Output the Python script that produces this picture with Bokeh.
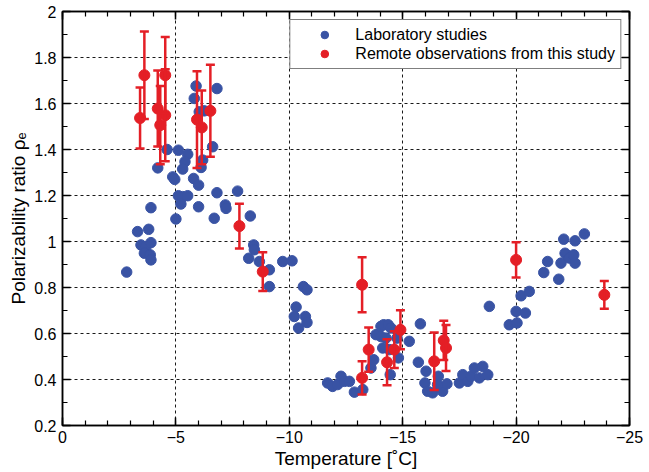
from bokeh.plotting import figure
from bokeh.models import (Range1d, LinearAxis, FixedTicker, Whisker, TeeHead,
                          ColumnDataSource, Legend, LegendItem, CustomJSTickFormatter)
from bokeh.embed import file_html
from bokeh.resources import INLINE

# Laboratory studies
lab_T = [-5.89, -6.81, -5.81, -6.03, -6.25, -6.62, -4.61, -5.11, -5.52, -5.40,
         -6.18, -6.11, -4.20, -5.30, -4.86, -4.95, -5.78, -6.00, -5.11, -5.30,
         -5.52, -6.81, -7.72, -5.22, -6.00, -7.18, -7.21, -6.69, -8.28, -5.00,
         -3.90, -3.31, -3.80, -3.46, -3.68, -3.90, -3.61, -3.87, -3.90, -2.83,
         -8.43, -8.46, -8.21, -8.68, -9.12, -9.12, -9.71, -10.12, -10.62, -10.78,
         -10.30, -10.22, -10.71, -10.78, -10.41,
         -11.69, -11.91, -12.13, -12.28, -12.43, -12.65, -12.87, -13.24, -13.60, -13.72,
         -13.82, -14.04, -14.16, -14.36, -14.48, -14.04, -14.26, -14.12, -14.41, -14.75,
         -14.45, -14.81, -15.29, -15.78, -15.69, -16.03, -15.98, -16.10, -16.32, -16.57,
         -16.76, -16.95, -16.54, -17.50, -17.65, -17.87, -18.01, -18.16, -18.38, -18.53,
         -18.75, -18.82, -19.70, -20.04, -20.00, -20.41, -20.22, -20.58, -21.22, -21.39,
         -21.88, -21.98, -22.16, -22.35, -22.54, -22.60, -22.10, -22.60, -23.01]
lab_rho = [1.676, 1.665, 1.622, 1.564, 1.568, 1.412, 1.400, 1.397, 1.379, 1.347,
           1.354, 1.322, 1.320, 1.315, 1.281, 1.270, 1.274, 1.245, 1.199, 1.195,
           1.199, 1.212, 1.219, 1.163, 1.151, 1.159, 1.144, 1.101, 1.111, 1.098,
           1.147, 1.043, 1.053, 0.985, 0.978, 0.995, 0.949, 0.942, 0.920, 0.867,
           0.985, 0.964, 0.927, 0.913, 0.877, 0.804, 0.913, 0.916, 0.804, 0.790,
           0.715, 0.674, 0.674, 0.648, 0.624,
           0.385, 0.370, 0.378, 0.414, 0.392, 0.392, 0.345, 0.356, 0.450, 0.486,
           0.595, 0.631, 0.638, 0.638, 0.624, 0.587, 0.580, 0.537, 0.530, 0.580,
           0.421, 0.494, 0.566, 0.642, 0.475, 0.436, 0.385, 0.349, 0.342, 0.414,
           0.349, 0.381, 0.378, 0.385, 0.421, 0.392, 0.414, 0.450, 0.407, 0.457,
           0.421, 0.718, 0.638, 0.646, 0.696, 0.689, 0.764, 0.783, 0.865, 0.913,
           0.836, 0.906, 0.949, 0.928, 0.942, 0.906, 1.010, 1.003, 1.033]

# Remote observations from this study
obs_T = [-3.61, -3.42, -4.53, -4.20, -4.31, -4.53, -5.93, -6.14, -6.52, -7.80,
         -8.83, -13.21, -13.21, -13.50, -14.31, -14.63, -14.90, -16.39, -16.81, -16.91,
         -20.00, -23.89]
obs_rho = [1.723, 1.537, 1.723, 1.578, 1.506, 1.549, 1.530, 1.496, 1.568, 1.067,
           0.869, 0.812, 0.407, 0.530, 0.475, 0.530, 0.616, 0.479, 0.570, 0.537,
           0.920, 0.768]
obs_err = [0.19, 0.133, 0.166, 0.165, 0.17, 0.20, 0.21, 0.16, 0.20, 0.097,
           0.084, 0.12, 0.072, 0.096, 0.10, 0.08, 0.085, 0.125, 0.085, 0.10,
           0.077, 0.06]

x_ticks = [0, -5, -10, -15, -20, -25]
x_minor = list(range(0, -26, -1))
y_ticks = [0.2, 0.4, 0.6, 0.8, 1.0, 1.2, 1.4, 1.6, 1.8, 2.0]
y_minor = [round(0.2 + 0.1 * i, 2) for i in range(19)]

BLUE = "#3953a4"
RED = "#e41f26"
FONT = "Liberation Sans"

p = figure(width=645, height=471, x_range=Range1d(0, -25), y_range=Range1d(0.2, 2.0),
           output_backend="svg", toolbar_location=None,
           min_border_left=62, min_border_right=16, min_border_top=11, min_border_bottom=45)
p.outline_line_color = "black"
p.outline_line_width = 1.5
p.background_fill_color = "white"

xf = CustomJSTickFormatter(code="return tick == 0 ? '0' : '\u2212' + Math.abs(tick);")
yf = CustomJSTickFormatter(code="return (Math.round(tick*10)/10).toString();")
blank = CustomJSTickFormatter(code="return '';")

def style_axis(ax, ticker, fmt, labels=True):
    ax.ticker = ticker
    ax.formatter = fmt
    ax.axis_line_width = 1.5
    ax.axis_line_color = "black"
    ax.major_tick_in = 8
    ax.major_tick_out = 0
    ax.minor_tick_in = 5
    ax.minor_tick_out = 0
    ax.major_tick_line_width = 1.5
    ax.minor_tick_line_width = 1.2
    ax.major_tick_line_color = "black"
    ax.minor_tick_line_color = "black"
    ax.major_label_text_font = FONT
    ax.major_label_text_color = "black"
    ax.major_label_text_font_size = "16px"
    if not labels:
        ax.major_label_standoff = 0

xt = FixedTicker(ticks=x_ticks, minor_ticks=x_minor)
yt = FixedTicker(ticks=y_ticks, minor_ticks=y_minor)

style_axis(p.xaxis[0], xt, xf)
style_axis(p.yaxis[0], yt, yf)
p.xaxis[0].major_label_standoff = 5
p.yaxis[0].major_label_standoff = 6
p.xaxis[0].axis_label = "Temperature [\u02daC]"
p.yaxis[0].axis_label = "Polarizability ratio \u03c1\u2091"
for ax in (p.xaxis[0], p.yaxis[0]):
    ax.axis_label_text_font = FONT
    ax.axis_label_text_font_size = "19px"
    ax.axis_label_text_font_style = "normal"
    ax.axis_label_text_color = "black"
p.xaxis[0].axis_label_standoff = 2
p.yaxis[0].axis_label_standoff = 2

top = LinearAxis()
style_axis(top, FixedTicker(ticks=x_ticks, minor_ticks=x_minor), blank, labels=False)
p.add_layout(top, "above")
right = LinearAxis()
style_axis(right, FixedTicker(ticks=y_ticks, minor_ticks=y_minor), blank, labels=False)
p.add_layout(right, "right")

for g in (p.xgrid[0], p.ygrid[0]):
    g.grid_line_color = "black"
    g.grid_line_dash = "3 3"
    g.grid_line_width = 1
    g.grid_line_alpha = 0.9
p.xgrid[0].ticker = xt
p.ygrid[0].ticker = yt

lab_src = ColumnDataSource(dict(x=lab_T, y=lab_rho))
r_lab = p.scatter("x", "y", source=lab_src, size=10.5, fill_color=BLUE, line_color=BLUE)

obs_src = ColumnDataSource(dict(
    x=obs_T, y=obs_rho,
    upper=[r + e for r, e in zip(obs_rho, obs_err)],
    lower=[r - e for r, e in zip(obs_rho, obs_err)]))
wh = Whisker(base="x", upper="upper", lower="lower", source=obs_src, dimension="height",
             line_color=RED, line_width=2.5,
             upper_head=TeeHead(size=9, line_color=RED, line_width=2.5),
             lower_head=TeeHead(size=9, line_color=RED, line_width=2.5))
wh.level = "glyph"
p.add_layout(wh)
r_obs = p.scatter("x", "y", source=obs_src, size=11, fill_color=RED, line_color=RED)

legend = Legend(items=[LegendItem(label="Laboratory studies", renderers=[r_lab]),
                       LegendItem(label="Remote observations from this study", renderers=[r_obs])],
                location="top_right")
legend.margin = 8
legend.padding = 5
legend.spacing = 0
legend.glyph_width = 58
legend.glyph_height = 19
legend.label_height = 19
legend.label_standoff = 2
legend.label_text_font = FONT
legend.label_text_font_size = "16px"
legend.label_text_color = "black"
legend.border_line_color = "black"
legend.border_line_width = 1.5
legend.background_fill_alpha = 1
p.add_layout(legend)

open("out.html", "w").write(file_html(p, INLINE))
